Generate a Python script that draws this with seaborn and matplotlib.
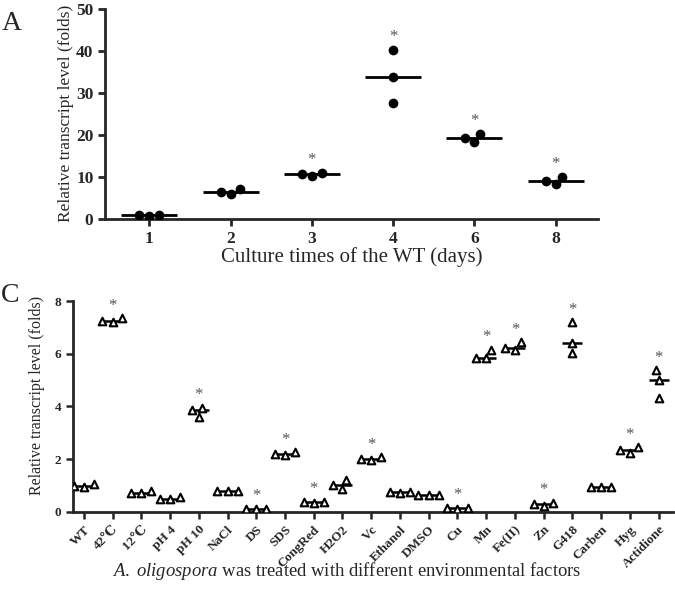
import numpy as np
import pandas as pd
import matplotlib
matplotlib.use("Agg")
import matplotlib.pyplot as plt
import seaborn as sns

# panel A: transcript level over culture time
days = ["1", "2", "3", "4", "6", "8"]
day_values = [
    [1.0, 0.8, 1.0],
    [7.1, 6.0, 6.5],
    [10.9, 10.3, 10.8],
    [40.2, 33.9, 27.5],
    [20.2, 18.3, 19.3],
    [10.1, 8.3, 9.1],
]
day_signif = ["3", "4", "6", "8"]

# panel C: environmental factors
factors = ["WT", "42℃", "12℃", "pH 4", "pH 10", "NaCl", "DS", "SDS", "CongRed",
           "H2O2", "Vc", "Ethanol", "DMSO", "Cu", "Mn", "Fe(II)", "Zn", "G418",
           "Carben", "Hyg", "Actidione"]
factor_values = [
    [1.05, 0.95, 0.97],
    [7.35, 7.22, 7.25],
    [0.78, 0.70, 0.72],
    [0.55, 0.48, 0.50],
    [3.95, 3.60, 3.88],
    [0.80, 0.79, 0.80],
    [0.12, 0.09, 0.12],
    [2.25, 2.15, 2.20],
    [0.38, 0.34, 0.38],
    [1.20, 0.85, 1.02],
    [2.08, 1.96, 2.00],
    [0.74, 0.72, 0.74],
    [0.65, 0.63, 0.65],
    [0.15, 0.11, 0.15],
    [6.15, 5.82, 5.85],
    [6.45, 6.15, 6.20],
    [0.34, 0.22, 0.30],
    [7.20, 6.42, 6.02],
    [0.93, 0.92, 0.93],
    [2.46, 2.22, 2.36],
    [5.38, 5.02, 4.33],
]
factor_signif = ["42℃", "pH 10", "DS", "SDS", "CongRed", "Vc", "Cu", "Mn",
                 "Fe(II)", "Zn", "G418", "Hyg", "Actidione"]

dfA = pd.DataFrame({"day": np.repeat(days, 3), "level": np.concatenate(day_values)})
dfC = pd.DataFrame({"factor": np.repeat(factors, 3), "level": np.concatenate(factor_values)})

sns.set_style("ticks")
plt.rcParams["font.family"] = ["Liberation Serif", "DejaVu Serif", "Noto Sans CJK SC"]
plt.rcParams["mathtext.fontset"] = "custom"
plt.rcParams["mathtext.rm"] = "Liberation Serif"
plt.rcParams["mathtext.it"] = "Liberation Serif:italic"

fig = plt.figure(figsize=(6.75, 5.95), dpi=100)
axA = fig.add_axes([0.156, 0.632, 0.730, 0.353])
axC = fig.add_axes([0.108, 0.140, 0.889, 0.354])

# --- panel A ---
sns.swarmplot(data=dfA, x="day", y="level", order=days, color="k", size=7, ax=axA)
sns.pointplot(data=dfA, x="day", y="level", order=days, estimator="median",
              errorbar=None, linestyle="none", marker="_", markersize=40,
              markeredgewidth=2, color="k", ax=axA)
axA.set_xlim(-0.54, 5.52)
axA.set_ylim(0, 50)
axA.set_yticks([0, 10, 20, 30, 40, 50])
for d in day_signif:
    i = days.index(d)
    axA.annotate("*", (i, max(day_values[i])), xytext=(0, 6.5), textcoords="offset points",
                 ha="center", va="baseline", fontsize=12, color="#555555")
axA.set_xlabel("Culture times of the WT (days)", fontsize=15)
axA.set_ylabel("Relative transcript level (folds)", fontsize=12.5)
axA.xaxis.set_label_coords(0.5, -0.132)
axA.yaxis.set_label_coords(-0.063, 0.505)
axA.tick_params(width=2, length=5, labelsize=12.5)
plt.setp(axA.get_xticklabels() + axA.get_yticklabels(), fontweight="bold")

# --- panel C ---
sns.swarmplot(data=dfC, x="factor", y="level", order=factors, marker="^",
              color="white", edgecolor="k", linewidth=1.5, size=5.5, ax=axC)
sns.pointplot(data=dfC, x="factor", y="level", order=factors, estimator="median",
              errorbar=None, linestyle="none", marker="_", markersize=14.5,
              markeredgewidth=1.8, color="k", ax=axC)
axC.set_xlim(-0.38, 20.5)
axC.set_ylim(0, 8)
axC.set_yticks([0, 2, 4, 6, 8])
for f in factor_signif:
    i = factors.index(f)
    axC.annotate("*", (i, max(factor_values[i])), xytext=(0, 6), textcoords="offset points",
                 ha="center", va="baseline", fontsize=12, color="#555555")
axC.set_xticks(range(len(factors)))
axC.set_xticklabels(factors, rotation=45, ha="right", rotation_mode="anchor",
                    fontweight="bold", fontsize=9.5)
axC.set_xlabel(r"$\mathit{A.\ oligospora}$ was treated with different environmental factors",
               fontsize=13.4)
axC.set_ylabel("Relative transcript level (folds)", fontsize=11.5)
axC.xaxis.set_label_coords(0.456, -0.228)
axC.yaxis.set_label_coords(-0.047, 0.55)
axC.tick_params(width=1.8, length=5, labelsize=9.5)
plt.setp(axC.get_yticklabels(), fontweight="bold")

for ax in (axA, axC):
    sns.despine(ax=ax)
    for s in ("left", "bottom"):
        ax.spines[s].set_linewidth(2)

fig.text(0.003, 0.9496, "A", fontsize=20)
fig.text(0.002, 0.4924, "C", fontsize=20)

fig.savefig("out.png", dpi=100)
